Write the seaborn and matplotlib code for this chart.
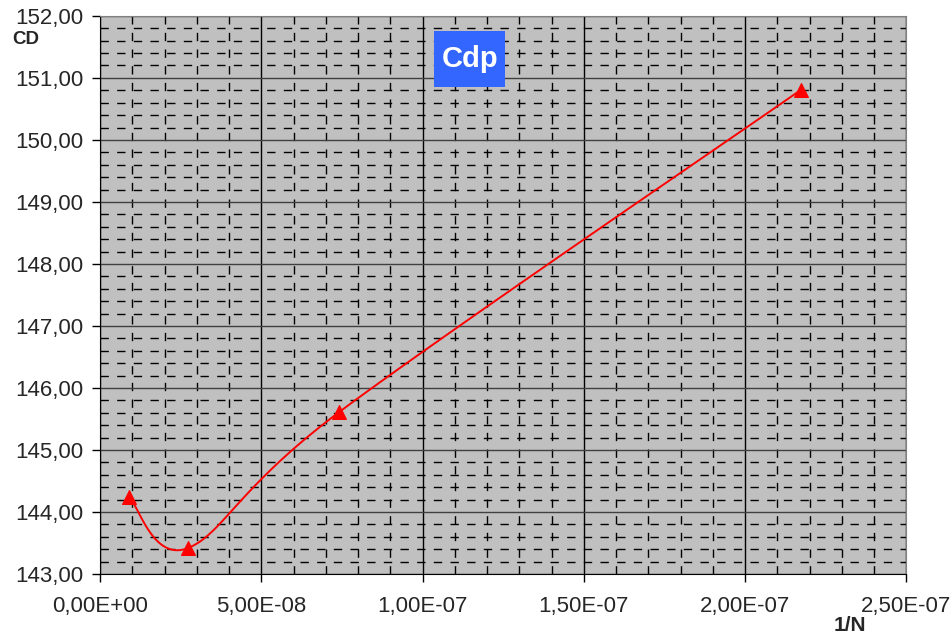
import matplotlib.pyplot as plt
import matplotlib.ticker as mticker
from matplotlib.patches import Rectangle
import pandas as pd
import seaborn as sns
import numpy as np

inv_n = [0.9e-8, 2.73e-8, 7.41e-8, 2.174e-7]
cd = [144.24, 143.42, 145.61, 150.81]

x_ticks = [0, 5e-8, 1e-7, 1.5e-7, 2e-7, 2.5e-7]
x_labels = ["0,00E+00", "5,00E-08", "1,00E-07", "1,50E-07", "2,00E-07", "2,50E-07"]
y_ticks = [143, 144, 145, 146, 147, 148, 149, 150, 151, 152]
y_labels = ["%d,00" % v for v in y_ticks]


def excel_smooth(xs, ys, n=40):
    # bezier smoothing like a spreadsheet "smoothed line"
    p = np.column_stack([xs, ys])
    out = []
    for i in range(len(p) - 1):
        p0 = p[i - 1] if i > 0 else p[i]
        p3 = p[i + 2] if i + 2 < len(p) else p[i + 1]
        c1 = p[i] + (p[i + 1] - p0) / 6
        c2 = p[i + 1] - (p3 - p[i]) / 6
        t = np.linspace(0, 1, n)[:, None]
        seg = ((1 - t) ** 3 * p[i] + 3 * (1 - t) ** 2 * t * c1
               + 3 * (1 - t) * t ** 2 * c2 + t ** 3 * p[i + 1])
        out.append(seg if i == 0 else seg[1:])
    return np.vstack(out)


sns.set_style("white")
plt.rcParams['font.family'] = ['Liberation Sans', 'DejaVu Sans']

fig = plt.figure(figsize=(9.53, 6.35), dpi=100)
ax = fig.add_axes([0.105, 0.096, 0.846, 0.879])
ax.set_facecolor("#c0c0c0")

curve = excel_smooth(inv_n, cd)
smooth = pd.DataFrame({"x": curve[:, 0], "y": curve[:, 1]})
pts = pd.DataFrame({"x": inv_n, "y": cd})

sns.lineplot(data=smooth, x="x", y="y", ax=ax, color="red", lw=1.4, sort=False, zorder=5)
sns.scatterplot(data=pts, x="x", y="y", ax=ax, color="red", marker="^", s=100,
                edgecolor="red", zorder=6)

ax.set_xlim(0, 2.5e-7)
ax.set_ylim(143, 152)
ax.set_xticks(x_ticks)
ax.set_xticklabels(x_labels, fontsize=16)
ax.set_yticks(y_ticks)
ax.set_yticklabels(y_labels, fontsize=16)
ax.xaxis.set_minor_locator(mticker.MultipleLocator(1e-8))
ax.yaxis.set_minor_locator(mticker.MultipleLocator(0.2))
ax.grid(which="major", axis="x", color="black", lw=1, ls="-")
ax.grid(which="major", axis="y", color="#404040", lw=1, ls="-")
ax.grid(which="minor", color="black", lw=1, ls=(0, (6, 6)))
ax.set_axisbelow(True)
ax.tick_params(which="major", direction="out", length=6, width=1, color="black",
               bottom=True, left=True)
ax.tick_params(axis="x", which="major", pad=10)
ax.tick_params(axis="y", which="major", pad=6)
ax.tick_params(which="minor", length=0)
ax.set_xlabel("")
ax.set_ylabel("")
for side in ["left", "bottom"]:
    ax.spines[side].set_color("black")
for side in ["top", "right"]:
    ax.spines[side].set_color("#808080")

fig.text(0.013, 0.930, "CD", fontsize=13.5, fontweight="bold")
fig.text(0.875, 0.006, "1/N", fontsize=15, fontweight="bold")
ax.add_patch(Rectangle((0.4144, 0.8728), 0.0881, 0.1003, transform=ax.transAxes,
                       fc="#3366ff", ec="none", zorder=9))
ax.text(0.4584, 0.923, "Cdp", transform=ax.transAxes, fontsize=21, fontweight="bold",
        color="white", ha="center", va="center", zorder=10)

fig.savefig("out.png", dpi=100)
